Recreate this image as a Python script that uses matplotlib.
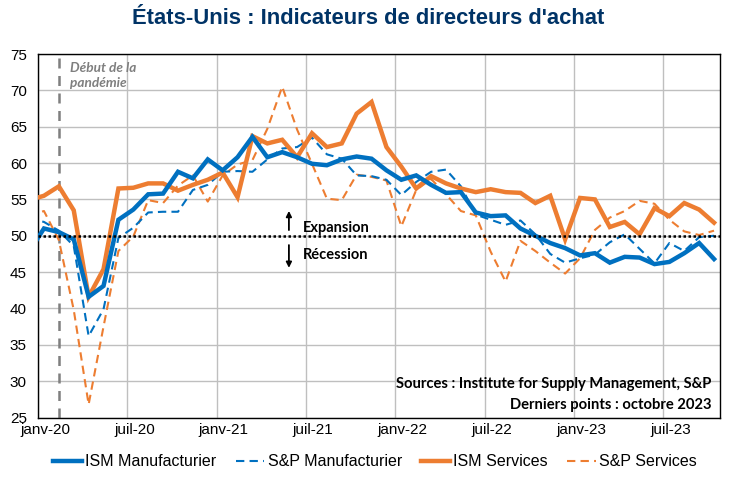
import matplotlib
matplotlib.use("Agg")
import matplotlib.pyplot as plt
import matplotlib.transforms as mtransforms
import numpy as np

# Months from Dec 2019 (index -1) to Oct 2023 (index 45)
month_idx = list(range(-1, 46))

ism_manuf = [47.8,
    51.0, 50.5, 49.5, 41.6, 43.1, 52.2, 53.6, 55.7, 55.8, 58.8, 57.9, 60.5,
    59.0, 60.8, 63.6, 60.8, 61.5, 60.8, 59.9, 59.7, 60.5, 60.9, 60.6, 59.0,
    57.7, 58.3, 57.0, 55.9, 56.0, 53.2, 52.7, 52.8, 51.0, 50.0, 49.0, 48.3,
    47.3, 47.6, 46.3, 47.1, 47.0, 46.1, 46.4, 47.6, 49.0, 46.8]

sp_manuf = [52.4,
    51.9, 50.7, 48.6, 36.2, 39.9, 49.7, 51.1, 53.2, 53.3, 53.3, 56.3, 57.0,
    58.8, 58.9, 58.8, 60.5, 62.0, 62.2, 63.5, 61.2, 60.6, 58.3, 58.2, 57.7,
    55.6, 57.4, 58.8, 59.1, 56.8, 52.9, 52.2, 51.5, 52.1, 50.2, 47.5, 46.3,
    46.9, 47.4, 49.1, 50.2, 48.2, 46.2, 49.0, 47.9, 49.8, 50.0]

ism_serv = [54.9,
    55.5, 56.8, 53.5, 41.6, 45.4, 56.5, 56.6, 57.2, 57.2, 56.2, 57.0, 57.7,
    58.7, 55.3, 63.7, 62.7, 63.2, 60.8, 64.1, 62.2, 62.7, 66.8, 68.4, 62.2,
    59.5, 56.5, 58.2, 57.2, 56.5, 56.0, 56.4, 56.0, 55.9, 54.5, 55.5, 49.5,
    55.2, 55.0, 51.2, 51.9, 50.2, 53.8, 52.7, 54.5, 53.6, 51.8]

sp_serv = [52.8,
    53.4, 49.4, 39.8, 26.8, 37.5, 47.9, 49.9, 54.9, 54.5, 56.9, 58.3, 54.7,
    58.3, 59.8, 60.4, 64.7, 70.5, 64.6, 59.9, 55.1, 54.9, 58.4, 58.1, 57.6,
    51.3, 56.3, 57.8, 55.7, 53.4, 52.8, 47.8, 43.7, 49.3, 47.9, 46.3, 44.8,
    46.9, 50.8, 52.5, 53.4, 54.8, 54.4, 52.2, 50.6, 50.1, 50.7]

tick_labels = ["janv-20", "juil-20", "janv-21", "juil-21",
               "janv-22", "juil-22", "janv-23", "juil-23"]
tick_months = [0, 6, 12, 18, 24, 30, 36, 42]

BLUE = "#0070C0"
ORANGE = "#ED7D31"

plt.rcParams['font.family'] = ['Liberation Sans', 'DejaVu Sans']

fig = plt.figure(figsize=(7.35, 4.84), dpi=100)
ax = fig.add_axes([38/735, 1-417.5/484, (720-38)/735, (417.5-54)/484])

x = np.array(month_idx) + 0.4

ax.plot(x, ism_manuf, color=BLUE, lw=3.2, solid_joinstyle='miter', label="ISM Manufacturier", zorder=5)
ax.plot(x, sp_manuf, color=BLUE, lw=1.5, ls=(0, (4, 2.5)), label="S&P Manufacturier", zorder=4)
ax.plot(x, ism_serv, color=ORANGE, lw=3.2, solid_joinstyle='miter', label="ISM Services", zorder=4)
ax.plot(x, sp_serv, color=ORANGE, lw=1.5, ls=(0, (4, 2.5)), label="S&P Services", zorder=3)

ax.set_xlim(0, 45.8)
ax.set_ylim(25, 75)
ax.set_yticks(range(25, 80, 5))
ax.set_xticks(tick_months)
ax.set_xticklabels(tick_labels)
ax.grid(True, color="#BFBFBF", lw=1.0, zorder=0)
ax.set_axisbelow(True)
for s in ax.spines.values():
    s.set_color("black")
    s.set_linewidth(1.0)
ax.tick_params(axis='both', length=0, labelsize=11, colors="black")
ax.tick_params(axis='y', pad=8)
ax.tick_params(axis='x', pad=4)
offset = mtransforms.ScaledTranslation(7/100, 0, fig.dpi_scale_trans)
for lbl in ax.get_xticklabels():
    lbl.set_transform(lbl.get_transform() + offset)

# 50 line
ax.axhline(50, color="black", lw=1.8, ls=(0, (1, 1)), zorder=6)

# pandemic line
ax.axvline(1.41, ymax=0.99, color="#7F7F7F", lw=1.8, ls=(0, (4, 3)), zorder=2)
ax.text(2.15, 72.1, "Début de la\npandémie", fontsize=9.8, fontweight='bold',
        fontstyle='italic', color="#7F7F7F", family=['Lato', 'DejaVu Sans'],
        va='center', ha='left', linespacing=1.3)

# Expansion / Recession arrows
ax.annotate("", xy=(16.85, 53.8), xytext=(16.85, 50.4),
            arrowprops=dict(arrowstyle="-|>", color="black", lw=1.3, mutation_scale=8))
ax.annotate("", xy=(16.85, 45.2), xytext=(16.85, 49.1),
            arrowprops=dict(arrowstyle="-|>", color="black", lw=1.3, mutation_scale=8))
ax.text(17.8, 51.0, "Expansion", fontsize=10.5, fontweight='bold',
        family=['Lato', 'DejaVu Sans'], va='center', ha='left')
ax.text(17.8, 47.3, "Récession", fontsize=10.5, fontweight='bold',
        family=['Lato', 'DejaVu Sans'], va='center', ha='left')

# Sources
ax.text(0.988, 0.093, "Sources : Institute for Supply Management, S&P", transform=ax.transAxes,
        fontsize=10.6, fontweight='bold', family=['Lato', 'DejaVu Sans'], ha='right', va='center')
ax.text(0.988, 0.035, "Derniers points : octobre 2023", transform=ax.transAxes,
        fontsize=10.6, fontweight='bold', family=['Lato', 'DejaVu Sans'], ha='right', va='center')

# Title
fig.text(368/735, 1-18/484, "États-Unis : Indicateurs de directeurs d'achat",
         fontsize=15.8, fontweight='bold', color="#003366", ha='center', va='center')

# Legend
leg = fig.legend(loc='center', bbox_to_anchor=(375/735, 1-462/484), ncol=4,
                 frameon=False, fontsize=11.5, handlelength=1.8, handletextpad=0.2,
                 columnspacing=1.2)

fig.savefig("out.png", dpi=100)
